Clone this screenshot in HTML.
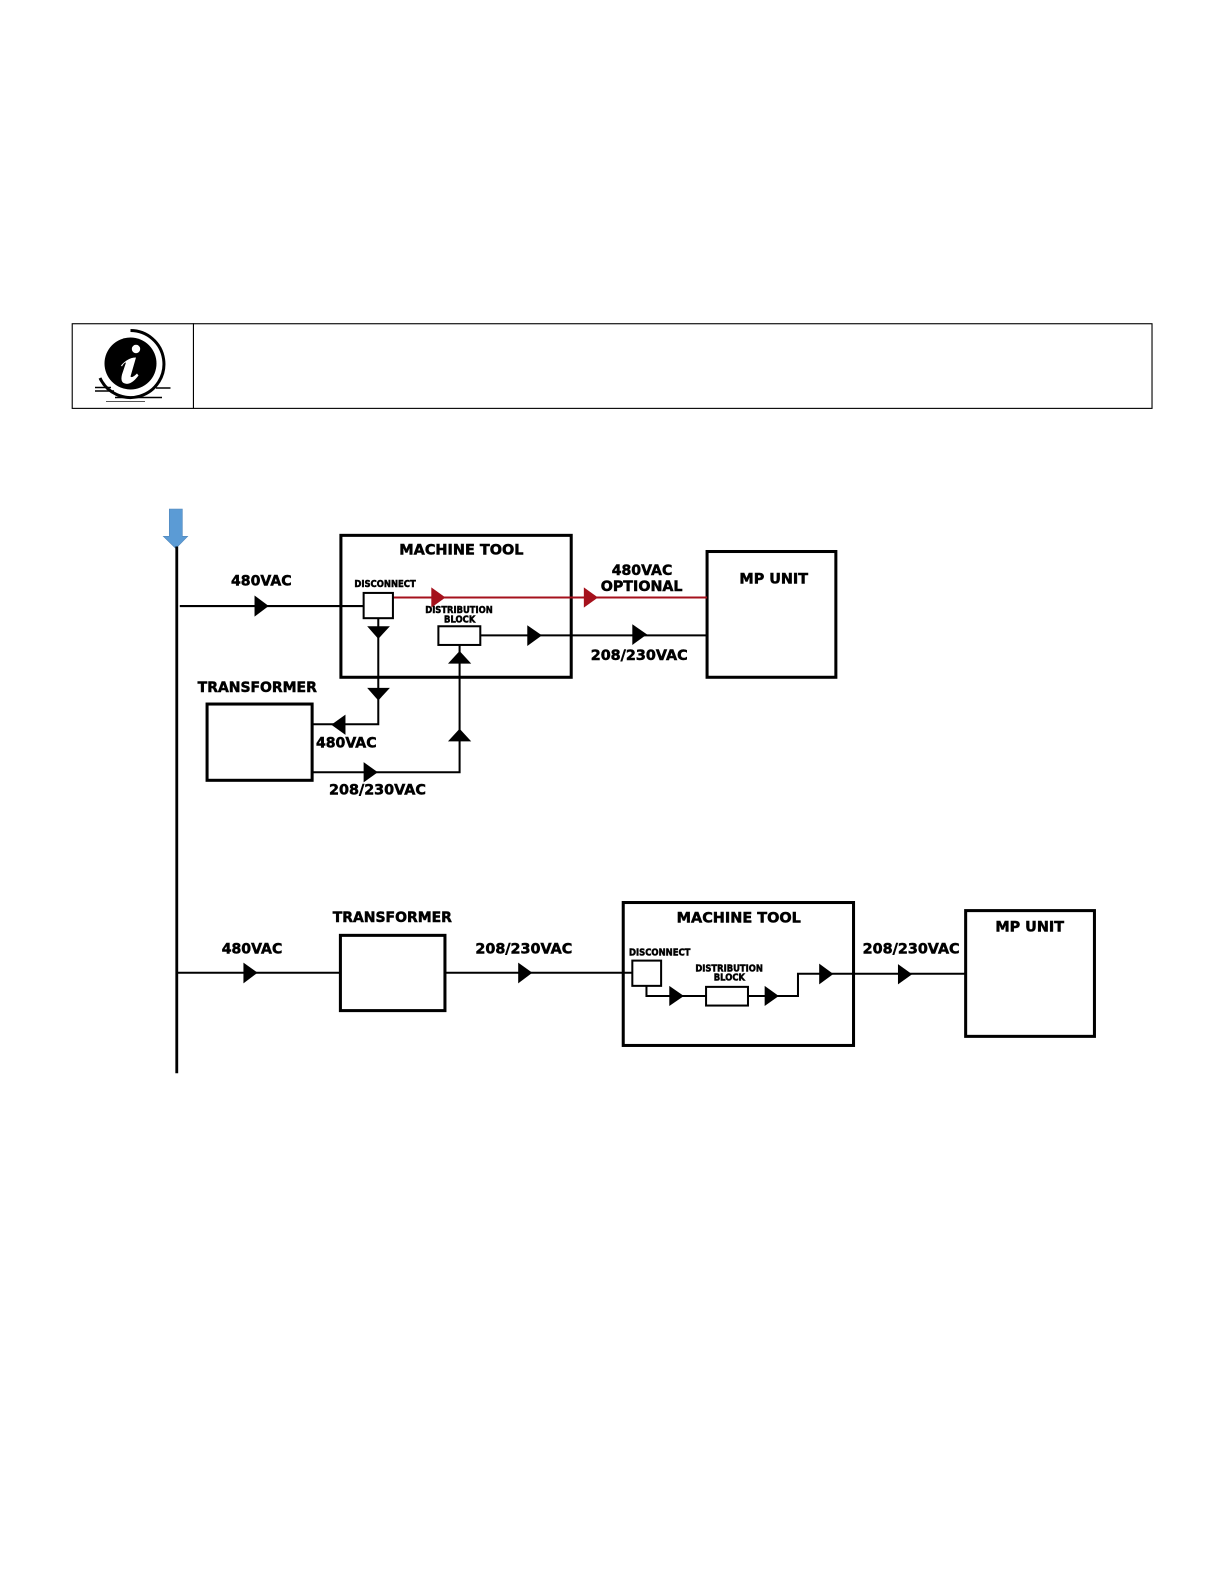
<!DOCTYPE html>
<html><head><meta charset="utf-8"><style>
html,body{margin:0;padding:0;background:#fff;width:1224px;height:1584px;overflow:hidden}
svg{display:block}
text{font-family:"DejaVu Sans","Liberation Sans",sans-serif;font-weight:bold;fill:#000;font-size:14px;stroke:#000;stroke-width:.5px}
.s{font-size:9.2px;stroke-width:.5px}
.b{fill:none;stroke:#000;stroke-width:3}
.m{fill:#fff;stroke:#000;stroke-width:2}
.l{fill:none;stroke:#000;stroke-width:2}
</style></head><body>
<svg width="1224" height="1584" viewBox="0 0 1224 1584" xmlns="http://www.w3.org/2000/svg">
<rect width="1224" height="1584" fill="#fff"/>
<!-- info icon -->
<g>
<line x1="95" y1="387.500" x2="111" y2="387.500" stroke="#000" stroke-width="1.500"/>
<line x1="95" y1="391" x2="114" y2="391" stroke="#000" stroke-width="1.500"/>
<line x1="156" y1="388" x2="170.500" y2="388" stroke="#000" stroke-width="1.500"/>
<line x1="115" y1="397.500" x2="162" y2="397.500" stroke="#000" stroke-width="1.500"/>
<line x1="106" y1="401.500" x2="145" y2="401.500" stroke="#555" stroke-width="1"/>
<path d="M130.500 330.500 A33.500 33.500 0 1 1 100 378" fill="none" stroke="#000" stroke-width="3"/>
<circle cx="130.500" cy="363.500" r="26" fill="#000"/>
<circle cx="136" cy="349" r="4.200" fill="#fff"/>
<path d="M121 365.500 Q128 357.500 136 357.500 L130.500 376.500 Q132 378.500 137 373.500 L138.500 375.500 Q131 385.500 125 383.500 Q120 382.500 122 374.500 L126 362.500 Q124 362.500 122 366.500 Z" fill="#fff"/>
</g>
<g transform="scale(1.0101)">
<!-- note table -->
<rect x="71.500" y="320.500" width="1069" height="83.800" fill="none" stroke="#000" stroke-width="1.100"/>
<line x1="191.500" y1="320" x2="191.500" y2="404.500" stroke="#000" stroke-width="1.100"/>
<!-- bus arrow -->
<path d="M167.600 504 H180.500 V531 H185.800 L174 543 L161.700 531 H167.600 Z" fill="#5b9bd5" stroke="#4f86bb" stroke-width=".6"/>
<line x1="175" y1="541" x2="175" y2="1062.500" stroke="#000" stroke-width="2.800"/>

<!-- top diagram boxes -->
<rect x="337.500" y="530" width="228" height="140.500" class="b"/>
<rect x="700" y="546" width="127.500" height="124.500" class="b"/>
<rect x="205" y="697" width="104" height="75.500" class="b"/>
<!-- top wiring -->
<path d="M178 600 H360" class="l"/>
<path d="M389 591.500 H700" fill="none" stroke="#a5111c" stroke-width="2"/>
<path d="M374.500 612 V717 H310" class="l"/>
<path d="M310 764.500 H455 V638" class="l"/>
<path d="M475 629 H700" class="l"/>
<rect x="360" y="587" width="29" height="25" class="m"/>
<rect x="434" y="620" width="41.500" height="18.500" class="m"/>
<!-- top arrowheads -->
<path d="M252 589.500 L266 600 L252 610.500 Z"/>
<path d="M427 581.500 L441 591.500 L427 601.500 Z" fill="#a5111c"/>
<path d="M578 581.500 L592 591.500 L578 601.500 Z" fill="#a5111c"/>
<path d="M522 619 L536.500 629 L522 639.500 Z"/>
<path d="M626 618 L640.500 628 L626 638.500 Z"/>
<path d="M363.500 620 H386 L374.500 632.500 Z"/>
<path d="M363.500 681 H386 L374.500 693.500 Z"/>
<path d="M342 707.500 V727.500 L328 717.500 Z"/>
<path d="M360 754.500 L374 764.500 L360 774.500 Z"/>
<path d="M443.500 657 H466.500 L455 644.500 Z"/>
<path d="M443.500 734 H466.500 L455 721.500 Z"/>
<!-- top text -->
<text x="228.700" y="579.600" textLength="60" lengthAdjust="spacingAndGlyphs">480VAC</text>
<text x="395.300" y="548.800" textLength="123" lengthAdjust="spacingAndGlyphs">MACHINE TOOL</text>
<text x="732" y="577.800" textLength="68" lengthAdjust="spacingAndGlyphs">MP UNIT</text>
<text x="605.600" y="569.300" textLength="60" lengthAdjust="spacingAndGlyphs">480VAC</text>
<text x="594.700" y="585.200" textLength="81" lengthAdjust="spacingAndGlyphs">OPTIONAL</text>
<text x="584.800" y="653.600" textLength="96" lengthAdjust="spacingAndGlyphs">208/230VAC</text>
<text x="195.700" y="685.200" textLength="118" lengthAdjust="spacingAndGlyphs">TRANSFORMER</text>
<text x="312.800" y="740" textLength="60" lengthAdjust="spacingAndGlyphs">480VAC</text>
<text x="325.700" y="786.700" textLength="96" lengthAdjust="spacingAndGlyphs">208/230VAC</text>
<text class="s" x="350.800" y="581" textLength="60.800" lengthAdjust="spacingAndGlyphs">DISCONNECT</text>
<text class="s" x="421" y="606.800" textLength="66.800" lengthAdjust="spacingAndGlyphs">DISTRIBUTION</text>
<text class="s" x="439.600" y="616.400" textLength="31" lengthAdjust="spacingAndGlyphs">BLOCK</text>

<!-- bottom diagram boxes -->
<rect x="337" y="926" width="103.500" height="74.500" class="b"/>
<rect x="617" y="893.500" width="228" height="141.500" class="b"/>
<rect x="956" y="901.500" width="127.500" height="124.500" class="b"/>
<!-- bottom wiring -->
<path d="M175 963 H337" class="l"/>
<path d="M441 963 H626" class="l"/>
<path d="M640 975 V986 H699" class="l"/>
<path d="M741 986 H790 V964 H956" class="l"/>
<rect x="626" y="951" width="28.500" height="25" class="m"/>
<rect x="699" y="977" width="41.500" height="18.500" class="m"/>
<!-- bottom arrowheads -->
<path d="M241 953 L255 963 L241 973.500 Z"/>
<path d="M513 953 L527 963 L513 973.500 Z"/>
<path d="M662.600 976 L677 986 L662.600 996 Z"/>
<path d="M757 976 L771 986 L757 996 Z"/>
<path d="M811 954 L825 964.300 L811 974.500 Z"/>
<path d="M889 954.500 L903 964.500 L889 974.500 Z"/>
<!-- bottom text -->
<text x="219.500" y="944" textLength="60" lengthAdjust="spacingAndGlyphs">480VAC</text>
<text x="329.400" y="913" textLength="118" lengthAdjust="spacingAndGlyphs">TRANSFORMER</text>
<text x="470.600" y="944" textLength="96" lengthAdjust="spacingAndGlyphs">208/230VAC</text>
<text x="669.900" y="913.300" textLength="123" lengthAdjust="spacingAndGlyphs">MACHINE TOOL</text>
<text x="854" y="944" textLength="96" lengthAdjust="spacingAndGlyphs">208/230VAC</text>
<text x="985.400" y="922.300" textLength="68" lengthAdjust="spacingAndGlyphs">MP UNIT</text>
<text class="s" x="622.700" y="946" textLength="60.800" lengthAdjust="spacingAndGlyphs">DISCONNECT</text>
<text class="s" x="688.400" y="961.600" textLength="66.800" lengthAdjust="spacingAndGlyphs">DISTRIBUTION</text>
<text class="s" x="706.600" y="970.800" textLength="31" lengthAdjust="spacingAndGlyphs">BLOCK</text>
</g>
</svg>
</body></html>
